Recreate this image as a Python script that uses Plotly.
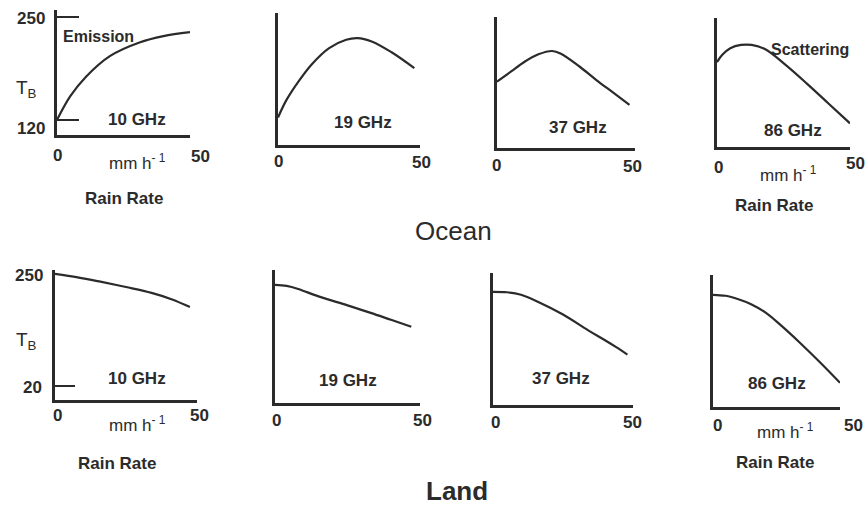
import plotly.graph_objects as go

W, H = 866, 505

# ---------------- data (rain rate mm/h, brightness temperature K) -------------
rain_ocean_10 = [0, 5, 11, 20, 31, 40, 50]
tb_ocean_10 = [120, 150, 175, 201, 218, 226, 231]

rain_ocean_19 = [0, 3, 7, 12, 18, 24, 28, 33, 40, 48]
tb_ocean_19 = [134, 155, 176, 198, 217, 227, 229, 225, 212, 193]

rain_ocean_37 = [0, 5, 10, 15, 20, 23, 30, 36, 42, 48]
tb_ocean_37 = [181, 193, 205, 214, 218, 215, 199, 183, 168, 153]

rain_ocean_86 = [0, 2, 5, 9, 13, 18, 26, 34, 42, 50]
tb_ocean_86 = [205, 214, 222, 226, 226, 221, 201, 178, 154, 130]

rain_land_10 = [0, 8, 16, 25, 34, 41, 47.5]
tb_land_10 = [250, 243, 234, 223, 211, 198, 182]

rain_land_19 = [0, 4, 8, 15, 25, 33, 40, 47]
tb_land_19 = [228, 226, 220, 205, 187, 172, 158, 144]

rain_land_37 = [0, 5, 10, 16, 25, 34, 40, 44, 48]
tb_land_37 = [220, 219, 214, 200, 174, 142, 122, 108, 93]

rain_land_86 = [0, 5, 10, 15, 21, 27, 34, 42, 50]
tb_land_86 = [218, 216, 209, 199, 181, 155, 122, 82, 40]

freq_labels = ["10 GHz", "19 GHz", "37 GHz", "86 GHz"]
ocean_ticks = [120, 250]
land_ticks = [20]
x_ticks = [0, 50]
ocean_range = [101, 259]
land_range = [-9, 258]

# ---------------- layout geometry (pixels) ------------------------------------
# (x0, x1, ytop, ybot) of each panel's axes box
boxes = [
    (57, 190, 10, 135), (278, 420, 13, 145), (497, 635, 17, 148), (717, 850, 18, 147),
    (55, 197, 270, 400), (275, 420, 270, 403), (493, 633, 273, 405), (713, 840, 275, 407),
]
series = [
    (rain_ocean_10, tb_ocean_10), (rain_ocean_19, tb_ocean_19),
    (rain_ocean_37, tb_ocean_37), (rain_ocean_86, tb_ocean_86),
    (rain_land_10, tb_land_10), (rain_land_19, tb_land_19),
    (rain_land_37, tb_land_37), (rain_land_86, tb_land_86),
]

INK = "#2b2b2b"
FONT = "Liberation Sans, Arial, sans-serif"


def px(x):
    return x / W


def py(y):
    return 1 - y / H


fig = go.Figure()
layout = dict(
    width=W, height=H, margin=dict(l=0, r=0, t=0, b=0),
    paper_bgcolor="white", plot_bgcolor="white", showlegend=False,
)

for i, ((xs, ys), (x0, x1, yt, yb)) in enumerate(zip(series, boxes)):
    n = i + 1
    xa = "x" if n == 1 else f"x{n}"
    ya = "y" if n == 1 else f"y{n}"
    fig.add_trace(go.Scatter(
        x=xs, y=ys, mode="lines", xaxis=xa, yaxis=ya,
        line=dict(color=INK, width=2.2, shape="spline", smoothing=1.0),
        hoverinfo="skip",
    ))
    ocean = i < 4
    xkey = "xaxis" if n == 1 else f"xaxis{n}"
    ykey = "yaxis" if n == 1 else f"yaxis{n}"
    layout[xkey] = dict(
        domain=[px(x0), px(x1)], anchor=ya, range=[0, 50],
        showline=True, linecolor=INK, linewidth=2.6,
        showgrid=False, zeroline=False, showticklabels=False, ticks="",
    )
    yax = dict(
        domain=[py(yb), py(yt)], anchor=xa,
        range=ocean_range if ocean else land_range,
        showline=True, linecolor=INK, linewidth=2.6,
        showgrid=False, zeroline=False, showticklabels=False, ticks="",
    )
    if n == 1:
        yax.update(tickvals=ocean_ticks, ticks="inside", ticklen=22,
                   tickwidth=2, tickcolor=INK)
    if n == 5:
        yax.update(tickvals=land_ticks, ticks="inside", ticklen=20,
                   tickwidth=2, tickcolor=INK)
    layout[ykey] = yax

annotations = []


def label(text, x, y, size=17, bold=True, color=INK):
    annotations.append(dict(
        text=f"<b>{text}</b>" if bold else text, x=px(x), y=py(y),
        xref="paper", yref="paper", xanchor="center", yanchor="middle",
        showarrow=False, font=dict(family=FONT, size=size, color=color),
    ))


UNIT = "mm h<sup>- 1</sup>"

# Ocean row
label("250", 31, 18)
label("120", 31, 128)
label("T<sub>B</sub>", 26, 89, size=19, bold=False)
label("Emission", 98, 37, size=16)
label(freq_labels[0], 137, 119)
label(str(x_ticks[0]), 57, 155)
label(str(x_ticks[1]), 200, 156)
label(UNIT, 137, 162, bold=False)
label("Rain Rate", 124, 198)

label(freq_labels[1], 363, 122)
label(str(x_ticks[0]), 278, 161)
label(str(x_ticks[1]), 421, 162)

label(freq_labels[2], 578, 127)
label(str(x_ticks[0]), 497, 165)
label(str(x_ticks[1]), 632, 166)

label("Scattering", 810, 50, size=16)
label(freq_labels[3], 793, 130)
label(str(x_ticks[0]), 718, 167)
label(str(x_ticks[1]), 855, 163)
label(UNIT, 788, 174, bold=False)
label("Rain Rate", 774, 205)

label("Ocean", 453, 231, size=26, bold=False)

# Land row
label("250", 29, 275)
label("T<sub>B</sub>", 26, 341, size=19, bold=False)
label("20", 32, 387)
label(freq_labels[0], 137, 378)
label(str(x_ticks[0]), 57, 415)
label(str(x_ticks[1]), 199, 415)
label(UNIT, 137, 424, bold=False)
label("Rain Rate", 117, 463)

label(freq_labels[1], 348, 380)
label(str(x_ticks[0]), 276, 420)
label(str(x_ticks[1]), 422, 420)

label(freq_labels[2], 561, 378)
label(str(x_ticks[0]), 495, 422)
label(str(x_ticks[1]), 632, 422)

label(freq_labels[3], 777, 383)
label(str(x_ticks[0]), 717, 425)
label(str(x_ticks[1]), 853, 425)
label(UNIT, 785, 431, bold=False)
label("Rain Rate", 775, 462)

label("Land", 457, 491, size=26, bold=True)

layout["annotations"] = annotations
fig.update_layout(**layout)
fig.write_html("out.html")
